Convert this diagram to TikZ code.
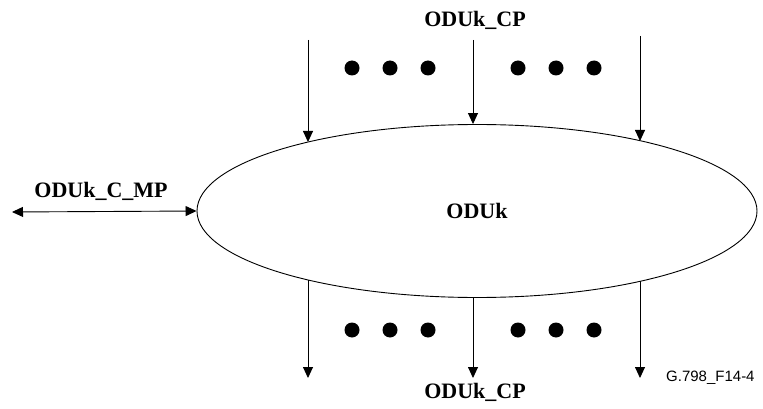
\documentclass[tikz,border=0pt]{standalone}
\usepackage{fontspec}
\setmainfont{Liberation Serif}
\setsansfont{Liberation Sans}
\usepackage{tikz}
\usetikzlibrary{arrows.meta,positioning,shapes.geometric}

\begin{document}
\begin{tikzpicture}[
  x=1pt,y=-1pt,
  every node/.style={font=\fontsize{22}{24}\selectfont\bfseries,inner sep=0pt},
  layer/.style={draw,ellipse,line width=0.9pt,minimum width=560pt,minimum height=173pt},
  arrow/.style={-{Triangle[length=11pt,width=10pt]},line width=0.9pt},
  dblarrow/.style={{Triangle[length=11pt,width=10pt]}-{Triangle[length=11pt,width=10pt]},line width=0.9pt},
  dot/.style={circle,fill=black,minimum size=15pt}
]
\useasboundingbox (0,0) rectangle (763,409);
\node[layer] (odu) at (477,211) {ODUk};
% connection points in and out
\node (cptop) at (475,20) {ODUk\_CP};
\node (cpbot) at (475,392) {ODUk\_CP};
\node (cmp) at (101,191) {ODUk\_C\_MP};
\node[font=\fontsize{15}{17}\selectfont\sffamily,anchor=west] (fig) at (666,378) {G.798\_F14-4};
\coordinate (in1) at (308,40);
\coordinate (in2) at (473,40);
\coordinate (in3) at (640,36);
\coordinate (e1) at (308,142);
\coordinate (e3) at (640,141);
\coordinate (f1) at (308,280);
\coordinate (f3) at (640,281);
\coordinate (out1) at (308,378);
\coordinate (out2) at (473,378);
\coordinate (out3) at (640,378);
\coordinate (mp) at (12,212);
\draw[arrow] (in1) -- (e1);
\draw[arrow] (in2) -- (in2 |- odu.north);
\draw[arrow] (in3) -- (e3);
\draw[arrow] (f1) -- (out1);
\draw[arrow] (out2 |- odu.south) -- (out2);
\draw[arrow] (f3) -- (out3);
\draw[dblarrow] (mp) -- (odu.west);
% the dots
\foreach \x in {352,390,428,518,556,594} {
  \node[dot] at (\x,68) {};
  \node[dot] at (\x,330) {};
}
\end{tikzpicture}
\end{document}
